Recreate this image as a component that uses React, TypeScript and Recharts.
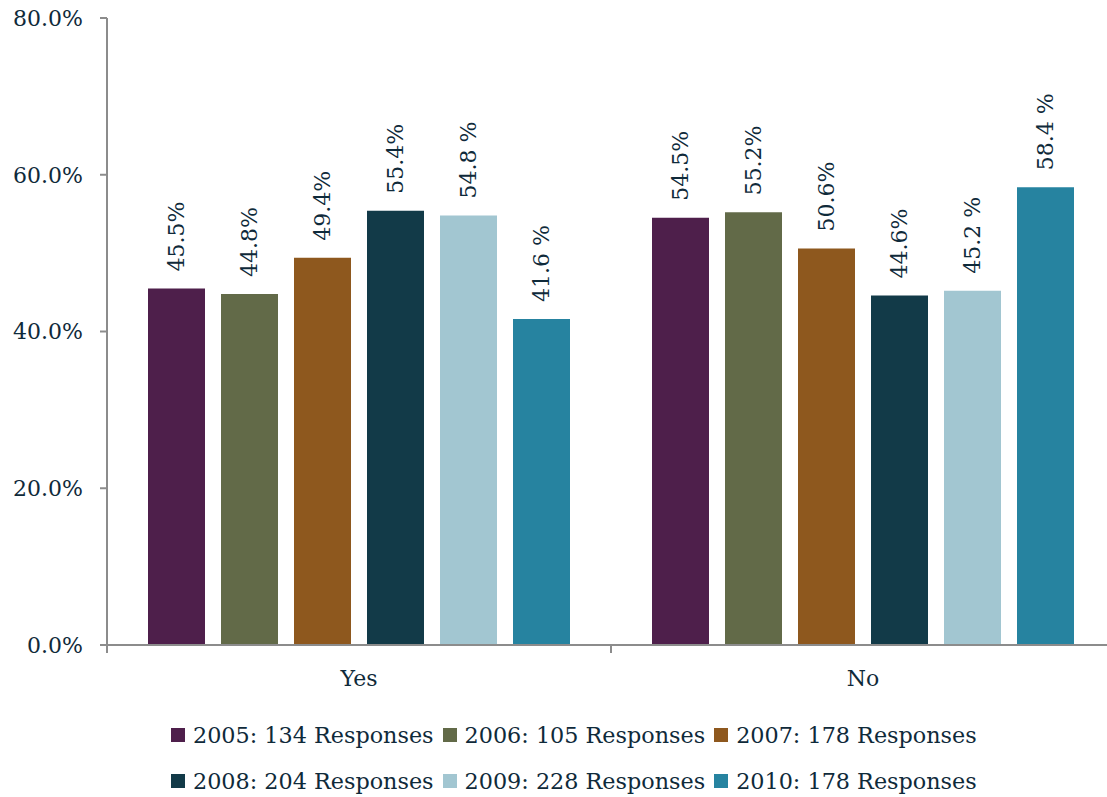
import React from "react";
import { BarChart, Bar, XAxis, YAxis, Legend, LabelList } from "recharts";

const categories = ["Yes", "No"];
const years = ["2005", "2006", "2007", "2008", "2009", "2010"];
const responses = [134, 105, 178, 204, 228, 178];
const colors = ["#4e1f4b", "#626a48", "#8e581e", "#123a48", "#a2c6d1", "#2683a0"];
// label suffix differs in the source: some series print "54.8 %"
const suffixes = ["%", "%", "%", "%", " %", " %"];

const v2005 = [45.5, 54.5];
const v2006 = [44.8, 55.2];
const v2007 = [49.4, 50.6];
const v2008 = [55.4, 44.6];
const v2009 = [54.8, 45.2];
const v2010 = [41.6, 58.4];
const seriesValues = [v2005, v2006, v2007, v2008, v2009, v2010];

const yTicks = [0, 20, 40, 60, 80];

const data = categories.map((name, i) => {
  const row: Record<string, string | number> = { name };
  years.forEach((y, k) => {
    row["y" + y] = seriesValues[k][i];
  });
  return row;
});

const FONT = "'DejaVu Serif', serif";
const TEXT = "#0f2a3a";
const AXIS = "#8c8c8c";

const XTick = (props: any) => {
  const { x, y, payload, index } = props;
  const off = payload && payload.offset ? payload.offset : 0;
  return (
    <g>
      {index === 0 && off ? (
        <>
          <line x1={x - off} y1={y} x2={x - off} y2={y + 8} stroke={AXIS} strokeWidth={2} />
          <line x1={x + off} y1={y} x2={x + off} y2={y + 8} stroke={AXIS} strokeWidth={2} />
        </>
      ) : null}
      <text x={x} y={y + 33} textAnchor="middle" dominantBaseline="central" fill={TEXT} fontSize={22} fontFamily={FONT}>
        {payload.value}
      </text>
    </g>
  );
};

const makeLabel = (suffix: string) => (props: any) => {
  const { x, y, width, value } = props;
  const cx = x + width / 2;
  const cy = y - 17;
  return (
    <text
      x={cx}
      y={cy}
      transform={`rotate(-90 ${cx} ${cy})`}
      textAnchor="start"
      dominantBaseline="central"
      fill={TEXT}
      fontSize={22}
      fontFamily={FONT}
    >
      {Number(value).toFixed(1) + suffix}
    </text>
  );
};

const LegendBox = () => {
  const rows = [years.slice(0, 3), years.slice(3)];
  return (
    <div style={{ position: "relative", width: 1120, height: 85, fontFamily: FONT, fontSize: 22.3, color: TEXT }}>
      {rows.map((row, r) => (
        <div
          key={r}
          style={{
            position: "absolute",
            top: r * 46,
            left: 171,
            height: 46,
            lineHeight: "46px",
            display: "flex",
            alignItems: "center",
            whiteSpace: "nowrap",
          }}
        >
          {row.map((yr) => {
            const k = years.indexOf(yr);
            return (
              <span key={yr} style={{ display: "flex", alignItems: "center", marginRight: 9 }}>
                <span style={{ width: 14, height: 14, background: colors[k], display: "inline-block", marginRight: 8 }} />
                {`${yr}: ${responses[k]} Responses`}
              </span>
            );
          })}
        </div>
      ))}
    </div>
  );
};

export default function App() {
  return (
    <div style={{ position: "absolute", left: 0, top: 0, width: 1107, height: 797, overflow: "hidden", background: "#fff" }}>
      <BarChart width={1120} height={797} data={data} margin={{ top: 18, right: 5, bottom: 0, left: 0 }} barSize={57} barGap={16}>
        <XAxis
          dataKey="name"
          height={67}
          axisLine={{ stroke: AXIS, strokeWidth: 2 }}
          tickLine={false}
          tickSize={0}
          tickMargin={0}
          tick={<XTick />}
          interval={0}
        />
        <YAxis
          width={107}
          domain={[0, 80]}
          ticks={yTicks}
          tickFormatter={(v: number) => v.toFixed(1) + "%"}
          axisLine={{ stroke: AXIS, strokeWidth: 2 }}
          tickLine={{ stroke: AXIS, strokeWidth: 2 }}
          tickSize={7}
          tickMargin={17}
          tick={{ fill: TEXT, fontSize: 22, fontFamily: FONT }}
        />
        <Legend verticalAlign="bottom" content={<LegendBox />} wrapperStyle={{ left: 0, width: 1120 }} />
        {years.map((yr, k) => (
          <Bar key={yr} dataKey={"y" + yr} name={`${yr}: ${responses[k]} Responses`} fill={colors[k]} isAnimationActive={false}>
            <LabelList dataKey={"y" + yr} content={makeLabel(suffixes[k])} />
          </Bar>
        ))}
      </BarChart>
    </div>
  );
}
